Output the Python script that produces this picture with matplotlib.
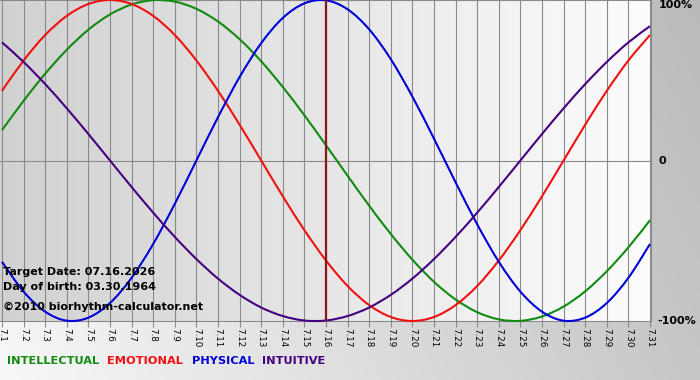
import numpy as np
import matplotlib
matplotlib.use("Agg")
import matplotlib.pyplot as plt
from matplotlib.path import Path
from matplotlib.patches import PathPatch

# days of July 2026 (fraction of 100%)
days = list(range(1, 32))
day_labels = ["7.%d" % d for d in days]

physical = [-0.631, -0.817, -0.942, -0.998, -0.979, -0.888, -0.731, -0.520, -0.270, 0.000,
            0.270, 0.520, 0.731, 0.888, 0.979, 0.998, 0.942, 0.817, 0.631, 0.398,
            0.136, -0.136, -0.398, -0.631, -0.817, -0.942, -0.998, -0.979, -0.888, -0.731,
            -0.520]
emotional = [0.434, 0.623, 0.782, 0.901, 0.975, 1.000, 0.975, 0.901, 0.782, 0.623,
             0.434, 0.223, 0.000, -0.223, -0.434, -0.623, -0.782, -0.901, -0.975, -1.000,
             -0.975, -0.901, -0.782, -0.623, -0.434, -0.223, 0.000, 0.223, 0.434, 0.623,
             0.782]
intellectual = [0.189, 0.372, 0.541, 0.690, 0.815, 0.910, 0.972, 0.999, 0.990, 0.945,
                0.866, 0.756, 0.618, 0.458, 0.282, 0.095, -0.095, -0.282, -0.458, -0.618,
                -0.756, -0.866, -0.945, -0.990, -0.999, -0.972, -0.910, -0.815, -0.690, -0.541,
                -0.372]
intuitive = [0.736, 0.614, 0.476, 0.325, 0.165, 0.000, -0.165, -0.325, -0.476, -0.614,
             -0.736, -0.837, -0.916, -0.969, -0.997, -0.997, -0.969, -0.916, -0.837, -0.736,
             -0.614, -0.476, -0.325, -0.165, 0.000, 0.165, 0.325, 0.476, 0.614, 0.736,
             0.837]

target_day = 16
info_lines = ["Target Date: 07.16.2026", "Day of birth: 03.30.1964",
              "\u00a92010 biorhythm-calculator.net"]

c_int, c_emo, c_phy, c_itu = "#108a10", "#f01010", "#0000d8", "#450080"


def smooth_path(xs, ys):
    # catmull-rom drawn as cubic bezier through the data points
    p = np.column_stack([xs, ys]).astype(float)
    ext = np.vstack([p[0], p, p[-1]])
    verts = [p[0]]
    codes = [Path.MOVETO]
    for i in range(1, len(ext) - 2):
        a, b, c, d = ext[i - 1], ext[i], ext[i + 1], ext[i + 2]
        verts += [b + (c - a) / 6, c - (d - b) / 6, c]
        codes += [Path.CURVE4] * 3
    return Path(verts, codes)


W, H = 700, 380
fig = plt.figure(figsize=(W / 100, H / 100), dpi=100)

# figure background: light at lower left, grey to the right
bg = fig.add_axes([0, 0, 1, 1], zorder=-5)
gx = np.linspace(0, 1, 200)
gy = np.linspace(0, 1, 60)
GX, GY = np.meshgrid(gx, gy)
shade = 0.97 - 0.19 * GX + 0.05 * (GY - 1)
bg.imshow(np.dstack([shade] * 3), extent=[0, 1, 0, 1], aspect="auto", origin="upper")
bg.axis("off")

x0, x1 = 0.0, 651 / W
y1, y0 = 1.0, 1 - 321 / H
ax = fig.add_axes([x0, y0, x1 - x0, y1 - y0])
xmin, xmax = days[0] - 2 / 21.63, days[-1] + 1 / 21.63
ax.set_xlim(xmin, xmax)
ax.set_ylim(-1.0, 1.0)

grad = np.linspace(0.82, 0.99, 200)[None, :]
ax.imshow(np.dstack([grad] * 3), extent=[xmin, xmax, -1, 1], aspect="auto", zorder=0)

for d in days:
    ax.axvline(d, color="#8a8a8a", lw=0.8, zorder=1)
ax.axhline(0, color="#8a8a8a", lw=0.8, zorder=1)

for vals, col in [(intellectual, c_int), (emotional, c_emo),
                  (physical, c_phy), (intuitive, c_itu)]:
    ax.add_patch(PathPatch(smooth_path(days, vals), fill=False, edgecolor=col,
                           lw=1.5, zorder=3, clip_on=False))
ax.axvline(target_day, color="#8a1a1a", lw=1.6, zorder=4)

ax.set_xticks(days)
ax.set_xticklabels(day_labels, rotation=-90, fontsize=6.3, family="DejaVu Sans")
ax.tick_params(axis="x", length=4, width=0.8, color="#8a8a8a", pad=1)
ax.set_yticks([])
for s in ax.spines.values():
    s.set_color("#8a8a8a")
    s.set_linewidth(0.8)
ax.spines["left"].set_visible(False)

for i, t in enumerate(info_lines):
    ax.text(3 / 651, (H - [272, 287, 307][i] - (H - 321)) / 321, t,
            transform=ax.transAxes, fontsize=8, fontweight="bold",
            va="center", ha="left", zorder=5)

# right side percent labels
tr = ax.get_yaxis_transform()
ax.text(1.012, 1.0, "100%", transform=tr, fontsize=8, fontweight="bold", va="top", ha="left")
ax.text(1.012, 0.0, "0", transform=tr, fontsize=8, fontweight="bold", va="center", ha="left")
ax.text(1.010, -1.0, "-100%", transform=tr, fontsize=8, fontweight="bold", va="center", ha="left")

# legend row
for name, col, px in [("INTELLECTUAL", c_int, 7), ("EMOTIONAL", c_emo, 107),
                      ("PHYSICAL", c_phy, 192), ("INTUITIVE", c_itu, 262)]:
    fig.text(px / W, 1 - 361 / H, name, color=col, fontsize=8.2, fontweight="bold",
             va="center", ha="left")

fig.savefig("out.png", dpi=100)
